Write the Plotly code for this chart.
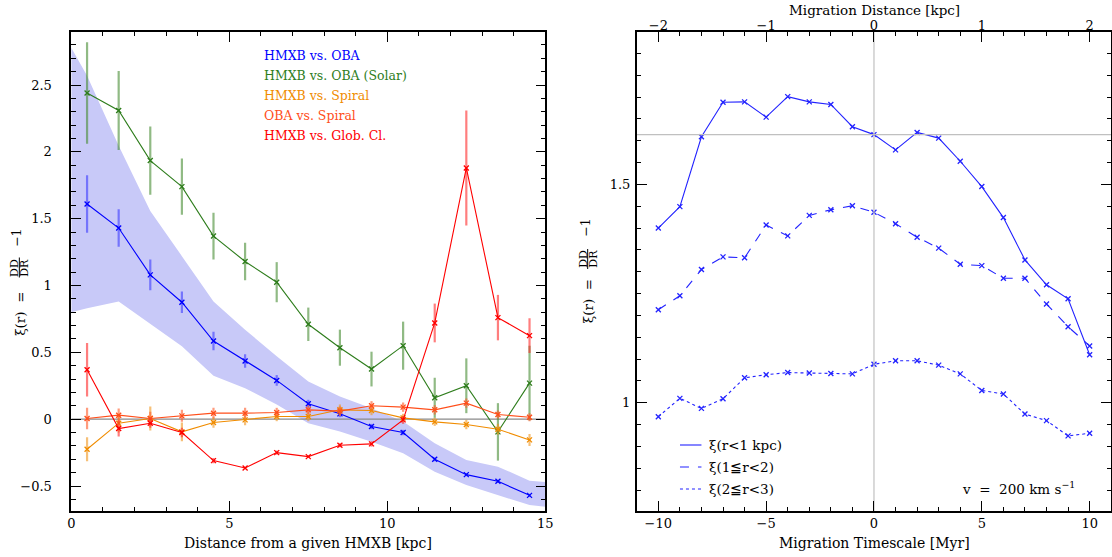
import plotly.graph_objects as go

# ---------------- data: left panel ----------------
r_bins = [0.5, 1.5, 2.5, 3.5, 4.5, 5.5, 6.5, 7.5, 8.5, 9.5, 10.5, 11.5, 12.5, 13.5, 14.5]

hmxb_oba = [1.61, 1.43, 1.08, 0.875, 0.585, 0.435, 0.29, 0.115, 0.04, -0.055, -0.10, -0.30, -0.415, -0.465, -0.57]
hmxb_oba_err = [0.215, 0.14, 0.115, 0.08, 0.07, 0.05, 0.04, 0.03, 0.025, 0.02, 0.02, 0.015, 0.012, 0.012, 0.012]

hmxb_oba_solar = [2.44, 2.31, 1.935, 1.74, 1.37, 1.18, 1.025, 0.71, 0.535, 0.375, 0.55, 0.16, 0.25, -0.095, 0.27]
hmxb_oba_solar_err = [0.38, 0.295, 0.255, 0.21, 0.175, 0.14, 0.15, 0.125, 0.135, 0.13, 0.18, 0.15, 0.205, 0.215, 0.28]

hmxb_spiral = [-0.225, -0.03, 0.005, -0.095, -0.025, -0.005, 0.02, 0.02, 0.07, 0.065, 0.01, -0.02, -0.04, -0.075, -0.155]
hmxb_spiral_err = [0.09, 0.07, 0.09, 0.07, 0.04, 0.04, 0.035, 0.035, 0.04, 0.035, 0.03, 0.03, 0.035, 0.04, 0.045]

oba_spiral = [0.005, 0.03, 0.005, 0.025, 0.045, 0.045, 0.05, 0.07, 0.06, 0.10, 0.09, 0.07, 0.12, 0.035, 0.015]
oba_spiral_err = [0.08, 0.05, 0.05, 0.045, 0.04, 0.04, 0.035, 0.035, 0.035, 0.035, 0.035, 0.035, 0.035, 0.03, 0.03]

hmxb_glob = [0.37, -0.07, -0.03, -0.10, -0.31, -0.365, -0.25, -0.28, -0.195, -0.185, -0.005, 0.72, 1.88, 0.76, 0.625]
hmxb_glob_err = [0.20, 0.06, 0.035, 0.035, 0.02, 0.01, 0.015, 0.01, 0.015, 0.02, 0.03, 0.145, 0.43, 0.17, 0.13]

band_x = [0, 0.5, 1.5, 2.5, 3.5, 4.5, 5.5, 6.5, 7.5, 8.5, 9.5, 10.5, 11.5, 12.5, 13.5, 14.5, 15]
band_upper = [2.78, 2.57, 2.045, 1.557, 1.22, 0.88, 0.67, 0.47, 0.282, 0.17, 0.082, -0.018, -0.18, -0.305, -0.355, -0.46, -0.47]
band_lower = [0.80, 0.83, 0.88, 0.71, 0.545, 0.325, 0.232, 0.11, -0.03, -0.093, -0.168, -0.255, -0.393, -0.493, -0.568, -0.643, -0.655]

left_series = [
    ("HMXB vs. OBA", hmxb_oba, hmxb_oba_err, "#0000ff", "rgba(60,60,255,0.6)"),
    ("HMXB vs. OBA (Solar)", hmxb_oba_solar, hmxb_oba_solar_err, "#2e7d1c", "rgba(70,140,50,0.6)"),
    ("HMXB vs. Spiral", hmxb_spiral, hmxb_spiral_err, "#f08c00", "rgba(240,150,30,0.6)"),
    ("OBA vs. Spiral", oba_spiral, oba_spiral_err, "#ff4e1a", "rgba(255,90,40,0.6)"),
    ("HMXB vs. Glob. Cl.", hmxb_glob, hmxb_glob_err, "#ff0000", "rgba(255,40,40,0.6)"),
]

# ---------------- data: right panel ----------------
tau = [-10, -9, -8, -7, -6, -5, -4, -3, -2, -1, 0, 1, 2, 3, 4, 5, 6, 7, 8, 9, 10]
xi_r1 = [1.400, 1.449, 1.609, 1.688, 1.689, 1.654, 1.701, 1.689, 1.683, 1.632, 1.614,
         1.579, 1.619, 1.606, 1.553, 1.495, 1.424, 1.327, 1.270, 1.238, 1.110]
xi_r12 = [1.213, 1.245, 1.305, 1.334, 1.332, 1.407, 1.382, 1.429, 1.442, 1.451, 1.436,
          1.410, 1.379, 1.354, 1.317, 1.314, 1.285, 1.285, 1.226, 1.174, 1.130]
xi_r23 = [0.968, 1.010, 0.987, 1.009, 1.057, 1.064, 1.069, 1.068, 1.067, 1.066, 1.088,
          1.096, 1.096, 1.086, 1.066, 1.028, 1.020, 0.974, 0.959, 0.924, 0.930]
velocity_kpc_per_myr = 0.2  # 200 km/s

right_series = [
    ("\u03be(r<1 kpc)", xi_r1, "solid"),
    ("\u03be(1\u2266r<2)", xi_r12, "dash"),
    ("\u03be(2\u2266r<3)", xi_r23, "dot"),
]

# ---------------- layout helpers ----------------
W, H = 1120, 557         # right panel frame runs just past the 1112 px window edge
FONT = "DejaVu Serif"


def px(x):
    return x / W


def py(y):
    return 1 - y / H


L_X0, L_X1 = 68.0, 547.2
R_X0, R_X1 = 639.6, 1119.2
Y_TOP, Y_BOT = 32.0, 511.0
TAU_RANGE = [-11, 11]
MAJ, MIN = 10, 4.5

fig = go.Figure()

# band
fig.add_trace(go.Scatter(x=band_x, y=band_upper, mode="lines", line=dict(width=0, color="rgba(0,0,0,0)"),
                         xaxis="x", yaxis="y", hoverinfo="skip"))
fig.add_trace(go.Scatter(x=band_x, y=band_lower, mode="lines", line=dict(width=0, color="rgba(0,0,0,0)"),
                         fill="tonexty", fillcolor="#c8c9f8", xaxis="x", yaxis="y", hoverinfo="skip"))
# zero line
fig.add_trace(go.Scatter(x=[0, 15], y=[0, 0], mode="lines", line=dict(color="#8a8a8a", width=1.3),
                         xaxis="x", yaxis="y", hoverinfo="skip"))

for name, vals, errs, col, ecol in left_series:
    fig.add_trace(go.Scatter(
        x=r_bins, y=vals, mode="lines+markers", name=name,
        line=dict(color=col, width=1.1),
        marker=dict(symbol="x-thin", size=5, line=dict(color=col, width=1.3), color=col),
        error_y=dict(type="data", array=errs, visible=True, color=ecol, thickness=2.2, width=0),
        xaxis="x", yaxis="y"))

# right panel reference lines
ref_val = xi_r1[tau.index(0)]
kpc_range = [t * velocity_kpc_per_myr for t in TAU_RANGE]
fig.add_trace(go.Scatter(x=kpc_range, y=[ref_val, ref_val], mode="lines",
                         line=dict(color="#c0c0c0", width=1.2), xaxis="x3", yaxis="y2", hoverinfo="skip"))
fig.add_trace(go.Scatter(x=[0, 0], y=[0.752, 1.849], mode="lines",
                         line=dict(color="#c0c0c0", width=1.2), xaxis="x3", yaxis="y2", hoverinfo="skip"))

RCOL = "#2323ff"
for name, vals, dash in right_series:
    fig.add_trace(go.Scatter(
        x=tau, y=vals, mode="lines+markers", name=name,
        line=dict(color=RCOL, width=1.1, dash=dash),
        marker=dict(symbol="x-thin", size=5, line=dict(color=RCOL, width=1.3), color=RCOL),
        xaxis="x2", yaxis="y2"))

tickfont = dict(family=FONT, size=13, color="black")
common = dict(showgrid=False, zeroline=False, showline=True, linecolor="black", linewidth=1.6,
              ticks="inside", tickcolor="black", tickwidth=1.3, tickfont=tickfont, ticklen=MAJ)
minor_common = dict(ticklen=MIN, ticks="inside", tickcolor="black", tickwidth=1.1)

fig.update_layout(
    width=W, height=H, margin=dict(l=0, r=0, t=0, b=0), autosize=False,
    paper_bgcolor="white", plot_bgcolor="white", showlegend=False,
    font=dict(family=FONT, color="black"),
    xaxis=dict(domain=[px(L_X0), px(L_X1)], range=[0, 15], anchor="y", tick0=0, dtick=5,
               minor=dict(dtick=1, **minor_common),
               mirror="ticks", ticklabelstandoff=0, **common),
    yaxis=dict(domain=[py(Y_BOT), py(Y_TOP)], range=[-0.687, 2.897], anchor="x", tick0=0, dtick=0.5,
               minor=dict(dtick=0.1, **minor_common),
               mirror="ticks", ticklabelstandoff=15, **common),
    xaxis2=dict(domain=[px(R_X0), px(R_X1)], range=TAU_RANGE, anchor="y2", tick0=0, dtick=5,
                minor=dict(dtick=1, **minor_common),
                mirror=False, ticklabelstandoff=0, **common),
    xaxis3=dict(overlaying="x2", side="top", anchor="y2", range=kpc_range,
                tick0=0, dtick=1,
                minor=dict(dtick=velocity_kpc_per_myr, **minor_common),
                ticklabelstandoff=-5, **common),
    yaxis2=dict(domain=[py(Y_BOT), py(Y_TOP)], range=[0.752, 1.849], anchor="x2", tick0=0, dtick=0.5,
                minor=dict(dtick=0.05, **minor_common),
                mirror="ticks", ticklabelstandoff=2, **common),
)

ann = []


def text(t, x, y, size=14, color="black", xanchor="center", angle=0):
    ann.append(dict(text=t, x=px(x), y=py(y), xref="paper", yref="paper", showarrow=False,
                    xanchor=xanchor, yanchor="middle", textangle=angle,
                    font=dict(family=FONT, size=size, color=color)))


# axis titles
text("Distance from a given HMXB [kpc]", 307.6, 542.5, size=14)
text("Migration Timescale [Myr]", 879.5, 542.5, size=14)
text("Migration Distance [kpc]", 880.4, 10.5, size=13.5)

# left legend
for i, (name, vals, errs, col, ecol) in enumerate(left_series):
    text(name, 260.7, 55 + 20.2 * i, size=12.5, color=col, xanchor="left")


# rotated y labels with fraction
def ylabel(xc, y_xi, y_frac, y_m1):
    text("\u03be(r)  =", xc, y_xi, size=13.5, angle=-90)
    text("DD", xc - 5, y_frac, size=11, angle=-90)
    text("DR", xc + 5, y_frac, size=11, angle=-90)
    text("\u22121", xc - 3, y_m1, size=12.5, angle=-90)
    return dict(type="line", xref="paper", yref="paper", x0=px(xc), x1=px(xc),
                y0=py(y_frac - 10), y1=py(y_frac + 10), line=dict(color="black", width=1))


shapes = [ylabel(15.5, 313.5, 267.5, 237.5), ylabel(590, 301.5, 259, 228)]

# right legend
leg_y = [445, 467, 489]
for (name, vals, dash), yy in zip(right_series, leg_y):
    shapes.append(dict(type="line", xref="paper", yref="paper", x0=px(683.3), x1=px(705),
                       y0=py(yy), y1=py(yy), line=dict(color=RCOL, width=1.1, dash=dash)))
    text(name, 710.7, yy, size=13.5, xanchor="left")

text("v  =  200 km s<sup>\u22121</sup>", 966.7, 488, size=13.5, xanchor="left")

fig.update_layout(annotations=ann, shapes=shapes)

post = ("document.documentElement.style.overflow='hidden';"
        "document.body.style.margin='0px';document.body.style.overflow='hidden';"
        "var gd=document.getElementById('{plot_id}');gd.style.width='1120px';gd.style.height='557px';"
        "Plotly.relayout(gd,{width:1120,height:557});")

fig.write_html("out.html", config={"responsive": False, "displayModeBar": False}, post_script=post)
